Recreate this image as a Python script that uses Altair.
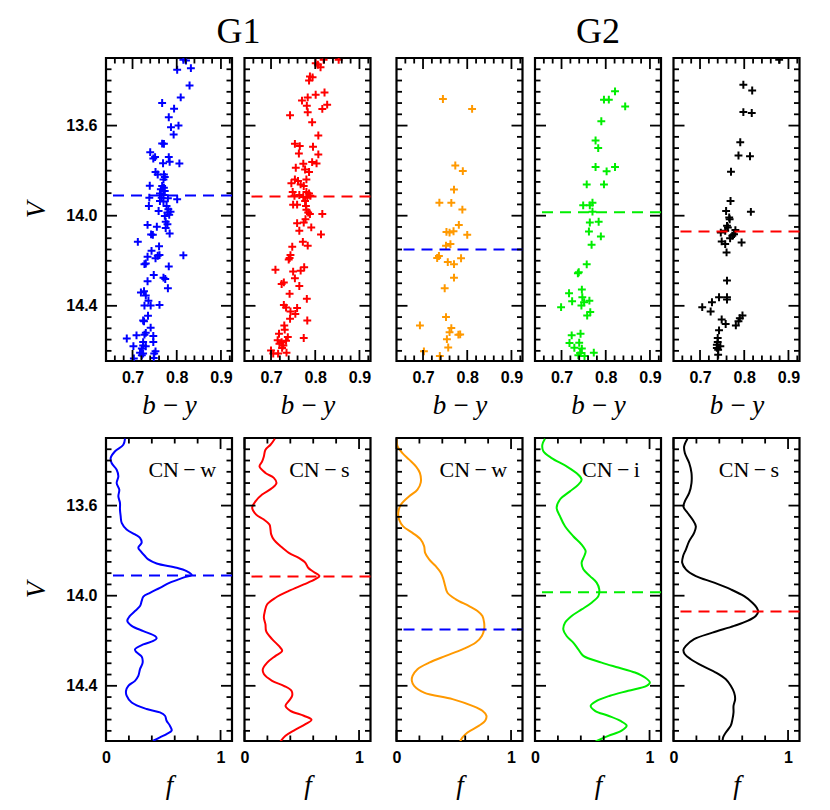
import altair as alt
import pandas as pd

# ---------------- top row: (b-y, V) stars per panel ----------------
G1W_BY = [0.815,0.821,0.801,0.832,0.829,0.809,0.767,0.794,0.782,0.804,
          0.787,0.793,0.767,0.771,0.740,0.751,0.747,0.782,0.784,0.769,
          0.806,0.752,0.757,0.771,0.773,0.770,0.739,0.767,0.771,0.764,
          0.773,0.762,0.770,0.766,0.738,0.780,0.801,0.762,0.770,0.737,
          0.777,0.781,0.759,0.786,0.779,0.773,0.783,0.775,0.734,0.779,
          0.755,0.775,0.784,0.742,0.746,0.712,0.760,0.743,0.815,0.757,
          0.761,0.752,0.734,0.730,0.727,0.782,0.748,0.770,0.774,0.734,
          0.780,0.726,0.719,0.730,0.736,0.727,0.741,0.761,0.735,0.724,
          0.726,0.741,0.730,0.727,0.747,0.709,0.687,0.724,0.747,0.702,
          0.724,0.730,0.721,0.752,0.717,0.724,0.749,0.721,0.703,0.748]
G1W_V = [13.308,13.311,13.352,13.345,13.422,13.475,13.500,13.525,13.563,13.600,
         13.607,13.640,13.680,13.681,13.718,13.740,13.746,13.740,13.761,13.767,
         13.768,13.806,13.817,13.817,13.828,13.839,13.867,13.868,13.876,13.883,
         13.890,13.901,13.908,13.920,13.920,13.923,13.927,13.935,13.937,13.957,
         13.957,13.971,13.979,13.982,13.986,14.001,13.996,14.027,14.041,14.038,
         14.049,14.055,14.079,14.083,14.085,14.116,14.136,14.156,14.176,14.178,
         14.175,14.189,14.182,14.212,14.215,14.225,14.263,14.275,14.281,14.291,
         14.322,14.335,14.341,14.354,14.377,14.399,14.399,14.396,14.444,14.465,
         14.469,14.497,14.520,14.528,14.534,14.531,14.545,14.561,14.561,14.579,
         14.576,14.580,14.590,14.602,14.608,14.612,14.612,14.620,14.634,14.632]

G1S_BY = [0.819,0.853,0.801,0.806,0.812,0.788,0.794,0.786,0.821,0.801,
          0.783,0.770,0.827,0.781,0.816,0.783,0.743,0.793,0.807,0.754,
          0.765,0.795,0.763,0.807,0.773,0.793,0.803,0.756,0.777,0.786,
          0.754,0.780,0.746,0.761,0.767,0.774,0.749,0.780,0.786,0.753,
          0.764,0.773,0.782,0.777,0.789,0.750,0.759,0.779,0.780,0.784,
          0.788,0.816,0.778,0.759,0.774,0.791,0.764,0.813,0.772,0.783,
          0.748,0.744,0.740,0.742,0.775,0.710,0.767,0.750,0.754,0.729,
          0.724,0.764,0.742,0.781,0.729,0.734,0.759,0.744,0.755,0.743,
          0.782,0.730,0.731,0.718,0.738,0.715,0.724,0.734,0.774,0.719,
          0.728,0.725,0.700,0.705,0.716,0.735]
G1S_V = [13.308,13.308,13.323,13.330,13.341,13.382,13.386,13.400,13.453,13.463,
         13.475,13.489,13.507,13.512,13.526,13.541,13.554,13.585,13.644,13.681,
         13.691,13.694,13.724,13.728,13.769,13.762,13.768,13.787,13.795,13.806,
         13.839,13.839,13.856,13.846,13.861,13.868,13.895,13.895,13.901,13.912,
         13.908,13.917,13.920,13.935,13.912,13.951,13.951,13.957,13.974,13.986,
         13.993,13.992,14.016,14.033,14.030,14.052,14.067,14.083,14.116,14.133,
         14.138,14.175,14.195,14.188,14.229,14.240,14.244,14.248,14.278,14.296,
         14.303,14.312,14.347,14.369,14.396,14.408,14.410,14.425,14.436,14.458,
         14.465,14.487,14.506,14.524,14.539,14.553,14.561,14.555,14.543,14.568,
         14.576,14.587,14.598,14.612,14.612,14.608]

G2W_BY = [0.745,0.811,0.773,0.790,0.770,0.737,0.764,0.789,0.781,0.753,
          0.760,0.769,0.800,0.762,0.752,0.736,0.732,0.786,0.756,0.770,
          0.770,0.749,0.752,0.693,0.764,0.760,0.780,0.784,0.754,0.757,
          0.702,0.738]
G2W_V = [13.482,13.526,13.777,13.802,13.884,13.942,13.943,13.973,14.041,14.072,
         14.075,14.069,14.085,14.126,14.133,14.179,14.188,14.189,14.206,14.215,
         14.275,14.322,14.450,14.487,14.499,14.517,14.528,14.527,14.548,14.585,
         14.602,14.623]

G2I_BY = [0.821,0.796,0.807,0.844,0.790,0.777,0.783,0.777,0.802,0.821,
          0.757,0.796,0.749,0.764,0.770,0.770,0.764,0.784,0.762,0.789,
          0.768,0.757,0.737,0.739,0.717,0.746,0.747,0.724,0.751,0.763,
          0.699,0.745,0.765,0.758,0.723,0.743,0.718,0.740,0.729,0.746,
          0.742,0.752,0.773,0.738]
G2I_V = [13.448,13.485,13.485,13.515,13.581,13.666,13.700,13.784,13.803,13.784,
         13.861,13.861,13.954,13.954,13.942,13.982,14.030,14.027,14.070,14.092,
         14.129,14.216,14.256,14.251,14.344,14.328,14.362,14.380,14.384,14.377,
         14.406,14.399,14.428,14.443,14.531,14.524,14.565,14.564,14.586,14.590,
         14.609,14.623,14.608,14.620]

G2S_BY = [0.879,0.798,0.818,0.798,0.817,0.791,0.787,0.813,0.770,0.769,
          0.759,0.815,0.766,0.767,0.761,0.763,0.757,0.780,0.747,0.777,
          0.773,0.768,0.749,0.794,0.757,0.760,0.761,0.743,0.761,0.761,
          0.727,0.705,0.724,0.749,0.758,0.796,0.790,0.787,0.781,0.743,
          0.740,0.740,0.738,0.746,0.738,0.741,0.741]
G2S_V = [13.308,13.419,13.444,13.540,13.544,13.674,13.733,13.736,13.805,13.935,
         13.979,13.983,14.008,14.016,14.045,14.052,14.067,14.064,14.075,14.082,
         14.089,14.100,14.114,14.119,14.126,14.163,14.288,14.362,14.362,14.372,
         14.384,14.406,14.425,14.461,14.481,14.443,14.455,14.469,14.487,14.509,
         14.543,14.561,14.573,14.580,14.587,14.595,14.617]

# ---------------- bottom row: f(V) curves ----------------
G1W_CV = [13.303,13.330,13.359,13.389,13.411,13.441,13.470,13.500,13.529,13.559,
          13.588,13.618,13.647,13.677,13.706,13.728,13.743,13.765,13.787,13.802,
          13.824,13.839,13.857,13.876,13.891,13.907,13.920,13.942,13.965,13.987,
          14.004,14.024,14.046,14.068,14.090,14.112,14.134,14.157,14.179,14.189,
          14.201,14.216,14.238,14.252,14.270,14.297,14.326,14.356,14.378,14.400,
          14.422,14.444,14.474,14.503,14.518,14.533,14.555,14.577,14.599,14.614,
          14.629,14.647]
G1W_CF = [0.166,0.151,0.079,0.041,0.049,0.093,0.108,0.093,0.116,0.108,
          0.122,0.122,0.128,0.137,0.180,0.253,0.297,0.311,0.282,0.302,
          0.340,0.369,0.442,0.617,0.704,0.748,0.675,0.558,0.471,0.384,
          0.326,0.311,0.297,0.253,0.209,0.186,0.224,0.326,0.428,0.442,
          0.413,0.326,0.253,0.268,0.311,0.320,0.297,0.282,0.253,0.195,
          0.175,0.180,0.224,0.355,0.471,0.515,0.529,0.558,0.573,0.529,
          0.471,0.398]

G1S_CV = [13.303,13.330,13.352,13.382,13.404,13.426,13.455,13.477,13.500,13.522,
          13.551,13.581,13.610,13.640,13.662,13.684,13.706,13.728,13.751,13.780,
          13.810,13.832,13.854,13.876,13.895,13.913,13.928,13.950,13.979,14.009,
          14.038,14.068,14.097,14.127,14.157,14.193,14.223,14.245,14.267,14.297,
          14.326,14.348,14.378,14.400,14.422,14.444,14.467,14.489,14.511,14.533,
          14.551,14.570,14.599,14.622,14.647]
G1S_CF = [0.265,0.227,0.183,0.169,0.154,0.131,0.183,0.256,0.279,0.241,
          0.154,0.096,0.067,0.102,0.169,0.218,0.227,0.233,0.256,0.314,
          0.387,0.474,0.532,0.556,0.605,0.654,0.614,0.518,0.387,0.271,
          0.198,0.178,0.169,0.183,0.189,0.241,0.300,0.329,0.271,0.198,
          0.160,0.169,0.241,0.343,0.410,0.416,0.387,0.358,0.401,0.518,
          0.585,0.532,0.430,0.358,0.314]

G2W_CV = [13.303,13.337,13.367,13.396,13.426,13.455,13.497,13.529,13.559,13.596,
          13.632,13.662,13.692,13.721,13.751,13.780,13.810,13.839,13.869,13.898,
          13.928,13.957,13.987,14.016,14.046,14.068,14.090,14.120,14.149,14.179,
          14.208,14.238,14.267,14.297,14.326,14.356,14.378,14.400,14.430,14.459,
          14.489,14.511,14.533,14.555,14.577,14.607,14.629,14.647]
G2W_CF = [0.000,0.009,0.052,0.111,0.169,0.204,0.212,0.183,0.111,0.038,
          0.015,0.023,0.058,0.140,0.212,0.241,0.250,0.285,0.343,0.387,
          0.410,0.425,0.445,0.518,0.634,0.707,0.750,0.765,0.765,0.745,
          0.692,0.576,0.430,0.285,0.183,0.140,0.134,0.154,0.241,0.489,
          0.663,0.750,0.785,0.774,0.721,0.620,0.576,0.556]

G2I_CV = [13.303,13.330,13.359,13.389,13.426,13.463,13.485,13.507,13.537,13.573,
          13.610,13.647,13.692,13.736,13.773,13.802,13.824,13.854,13.883,13.913,
          13.942,13.972,14.002,14.031,14.061,14.090,14.120,14.149,14.179,14.208,
          14.238,14.267,14.297,14.319,14.341,14.363,14.385,14.400,14.422,14.444,
          14.467,14.489,14.511,14.533,14.555,14.577,14.599,14.622,14.647]
G2I_CF = [0.087,0.064,0.073,0.145,0.276,0.378,0.407,0.378,0.305,0.218,
          0.189,0.218,0.262,0.334,0.407,0.442,0.430,0.407,0.422,0.480,
          0.538,0.561,0.553,0.494,0.407,0.320,0.262,0.247,0.276,0.334,
          0.378,0.422,0.582,0.727,0.873,0.960,1.003,0.974,0.814,0.654,
          0.538,0.486,0.524,0.640,0.742,0.800,0.756,0.640,0.529]

G2S_CV = [13.303,13.337,13.367,13.411,13.455,13.500,13.544,13.581,13.606,13.632,
          13.662,13.692,13.721,13.758,13.795,13.824,13.854,13.883,13.913,13.942,
          13.972,14.002,14.031,14.053,14.071,14.090,14.112,14.134,14.164,14.193,
          14.223,14.241,14.260,14.282,14.312,14.341,14.371,14.400,14.430,14.459,
          14.489,14.518,14.548,14.577,14.607,14.629,14.647]
G2S_CF = [0.122,0.093,0.099,0.137,0.157,0.157,0.137,0.099,0.087,0.122,
          0.166,0.195,0.180,0.137,0.108,0.084,0.076,0.108,0.195,0.355,
          0.500,0.617,0.689,0.727,0.739,0.718,0.646,0.529,0.340,0.180,
          0.108,0.087,0.099,0.151,0.253,0.369,0.457,0.500,0.529,0.538,
          0.524,0.524,0.515,0.500,0.457,0.433,0.428]

# ---------------- annotations ----------------
PANEL_COLORS = ["#0000ff", "#ff0000", "#ff9900", "#00ee00", "#000000"]
PEAK_V = [13.91, 13.915, 14.15, 13.985, 14.07]
PEAK_COLORS = ["#0000ff", "#ff0000", "#0000ff", "#00ee00", "#ff0000"]
CN_LABELS = ["CN\u2009\u2212\u2009w", "CN\u2009\u2212\u2009s", "CN\u2009\u2212\u2009w",
             "CN\u2009\u2212\u2009i", "CN\u2009\u2212\u2009s"]
CN_F = [0.37, 0.39, 0.375, 0.41, 0.395]
CN_V = [13.473, 13.473, 13.473, 13.473, 13.473]
GROUP_TITLES = ["G1", "G2"]

# ---------------- axes / ticks ----------------
V_DOMAIN = [13.3, 14.645]
BY_DOMAIN = [0.64, 0.925]
F_DOMAIN = [0.0, 1.1]
V_LABELS = [13.6, 14.0, 14.4]
V_MINOR = [13.35, 13.40, 13.45, 13.50, 13.55, 13.65, 13.70, 13.75, 13.80, 13.85,
           13.90, 13.95, 14.05, 14.10, 14.15, 14.20, 14.25, 14.30, 14.35, 14.45,
           14.50, 14.55, 14.60]
BY_LABELS = [0.7, 0.8, 0.9]
BY_MINOR = [0.66, 0.68, 0.72, 0.74, 0.76, 0.78, 0.82, 0.84, 0.86, 0.88, 0.92]
F_LABELS = [0, 1]
F_MINOR = [0.2, 0.4, 0.6, 0.8]

SCATTER = [(G1W_BY, G1W_V), (G1S_BY, G1S_V), (G2W_BY, G2W_V), (G2I_BY, G2I_V), (G2S_BY, G2S_V)]
CURVES = [(G1W_CV, G1W_CF), (G1S_CV, G1S_CF), (G2W_CV, G2W_CF), (G2I_CV, G2I_CF), (G2S_CV, G2S_CF)]

W, H = 126, 303
SERIF = "Liberation Serif"
SANS = "Liberation Sans"
MAJ, MIN = 11, 5.5
TICK_W = 1.8
PLUS = "M-1,0L1,0M0,-1L0,1"


def y_enc(field, show):
    scale = alt.Scale(domain=V_DOMAIN, reverse=True, nice=False, zero=False)
    if show:
        axis = alt.Axis(values=V_LABELS, format=".1f", ticks=False, tickSize=0, domain=False, grid=False,
                        labelFont=SANS, labelFontWeight="bold", labelFontSize=16, labelColor="black",
                        labelPadding=9, labelOverlap=False,
                        title="V", titleFont=SERIF, titleFontStyle="italic", titleFontWeight="normal",
                        titleFontSize=27, titleColor="black", titlePadding=15)
    else:
        axis = None
    return alt.Y(f"{field}:Q", scale=scale, axis=axis)


def x_enc(field, top):
    if top:
        dom, vals, fmt, title, tpad = BY_DOMAIN, BY_LABELS, ".1f", "b\u2009\u2212\u2009y", 7
    else:
        dom, vals, fmt, title, tpad = F_DOMAIN, F_LABELS, ".0f", "f", 7
    axis = alt.Axis(values=vals, format=fmt, ticks=False, tickSize=0, domain=False, grid=False,
                    labelFont=SANS, labelFontWeight="bold", labelFontSize=16, labelColor="black",
                    labelPadding=8.5, labelFlush=False, labelOverlap=False,
                    title=title, titleFont=SERIF, titleFontStyle="italic", titleFontWeight="normal",
                    titleFontSize=27, titleColor="black", titlePadding=tpad)
    return alt.X(f"{field}:Q", scale=alt.Scale(domain=dom, nice=False, zero=False), axis=axis)


def tick_layers(top, show_y):
    out = []
    for vals, ln in ((V_LABELS, MAJ), (V_MINOR, MIN)):
        base = alt.Chart(pd.DataFrame({"t": vals})).mark_rule(color="black", strokeWidth=TICK_W)
        out.append(base.encode(y=y_enc("t", show_y), x=alt.value(0), x2=alt.value(ln)))
        out.append(base.encode(y=y_enc("t", show_y), x=alt.value(W), x2=alt.value(W - ln)))
    xmaj, xmin = (BY_LABELS, BY_MINOR) if top else (F_LABELS, F_MINOR)
    for vals, ln in ((xmaj, MAJ), (xmin, MIN)):
        base = alt.Chart(pd.DataFrame({"t": vals})).mark_rule(color="black", strokeWidth=TICK_W)
        out.append(base.encode(x=x_enc("t", top), y=alt.value(0), y2=alt.value(ln)))
        out.append(base.encode(x=x_enc("t", top), y=alt.value(H), y2=alt.value(H - ln)))
    return out


def make_panel(i, top):
    show_y = (i == 0)
    color = PANEL_COLORS[i]
    layers = []
    if top:
        bys, vs = SCATTER[i]
        d = pd.DataFrame({"by": bys, "V": vs})
        layers.append(alt.Chart(d).mark_point(shape=PLUS, size=62, strokeWidth=2.0, color=color,
                                              filled=False, opacity=1, clip=True)
                      .encode(x=x_enc("by", True), y=y_enc("V", show_y)))
    else:
        vs, fs = CURVES[i]
        d = pd.DataFrame({"V": vs, "f": fs})
        layers.append(alt.Chart(d).mark_line(color=color, strokeWidth=2.0, interpolate="catmull-rom", clip=True)
                      .encode(x=x_enc("f", False), y=y_enc("V", show_y), order="V:Q"))
        dt = pd.DataFrame({"f": [CN_F[i]], "V": [CN_V[i]], "t": [CN_LABELS[i]]})
        layers.append(alt.Chart(dt).mark_text(align="left", baseline="alphabetic", font=SERIF, fontSize=22,
                                              color="black")
                      .encode(x=x_enc("f", False), y=y_enc("V", show_y), text="t:N"))
    dp = pd.DataFrame({"V": [PEAK_V[i]]})
    layers.append(alt.Chart(dp).mark_rule(color=PEAK_COLORS[i], strokeWidth=2.0, strokeDash=[11, 7])
                  .encode(y=y_enc("V", show_y)))
    layers += tick_layers(top, show_y)
    ch = alt.layer(*layers).properties(width=W, height=H)
    if top and i == 0:
        ch = ch.properties(title=alt.TitleParams(GROUP_TITLES[0], anchor="end", align="center", dx=6.5,
                                                 offset=6, frame="group",
                                                 font=SERIF, fontSize=36, fontWeight="normal", color="black"))
    if top and i == 3:
        ch = ch.properties(title=alt.TitleParams(GROUP_TITLES[1], anchor="middle", offset=6,
                                                 frame="group",
                                                 font=SERIF, fontSize=36, fontWeight="normal", color="black"))
    return ch


def spacer():
    return (alt.Chart(pd.DataFrame({"a": [0]})).mark_point(opacity=0)
            .encode(x=alt.value(0), y=alt.value(0))
            .properties(width=1, height=H, view=alt.ViewBackground(stroke="transparent")))


cells = [make_panel(0, True), make_panel(1, True), spacer(), make_panel(2, True), make_panel(3, True), make_panel(4, True),
         make_panel(0, False), make_panel(1, False), spacer(), make_panel(2, False), make_panel(3, False), make_panel(4, False)]

chart = alt.concat(*cells, columns=6, spacing={"row": 77, "column": 12.5}, bounds="flush", align="each")
chart = chart.properties(padding={"left": 13, "top": 5, "right": 5, "bottom": 5})
chart = chart.configure_view(stroke="black", strokeWidth=2.2)
chart.save("out.html", embed_options={"renderer": "svg", "actions": False})
